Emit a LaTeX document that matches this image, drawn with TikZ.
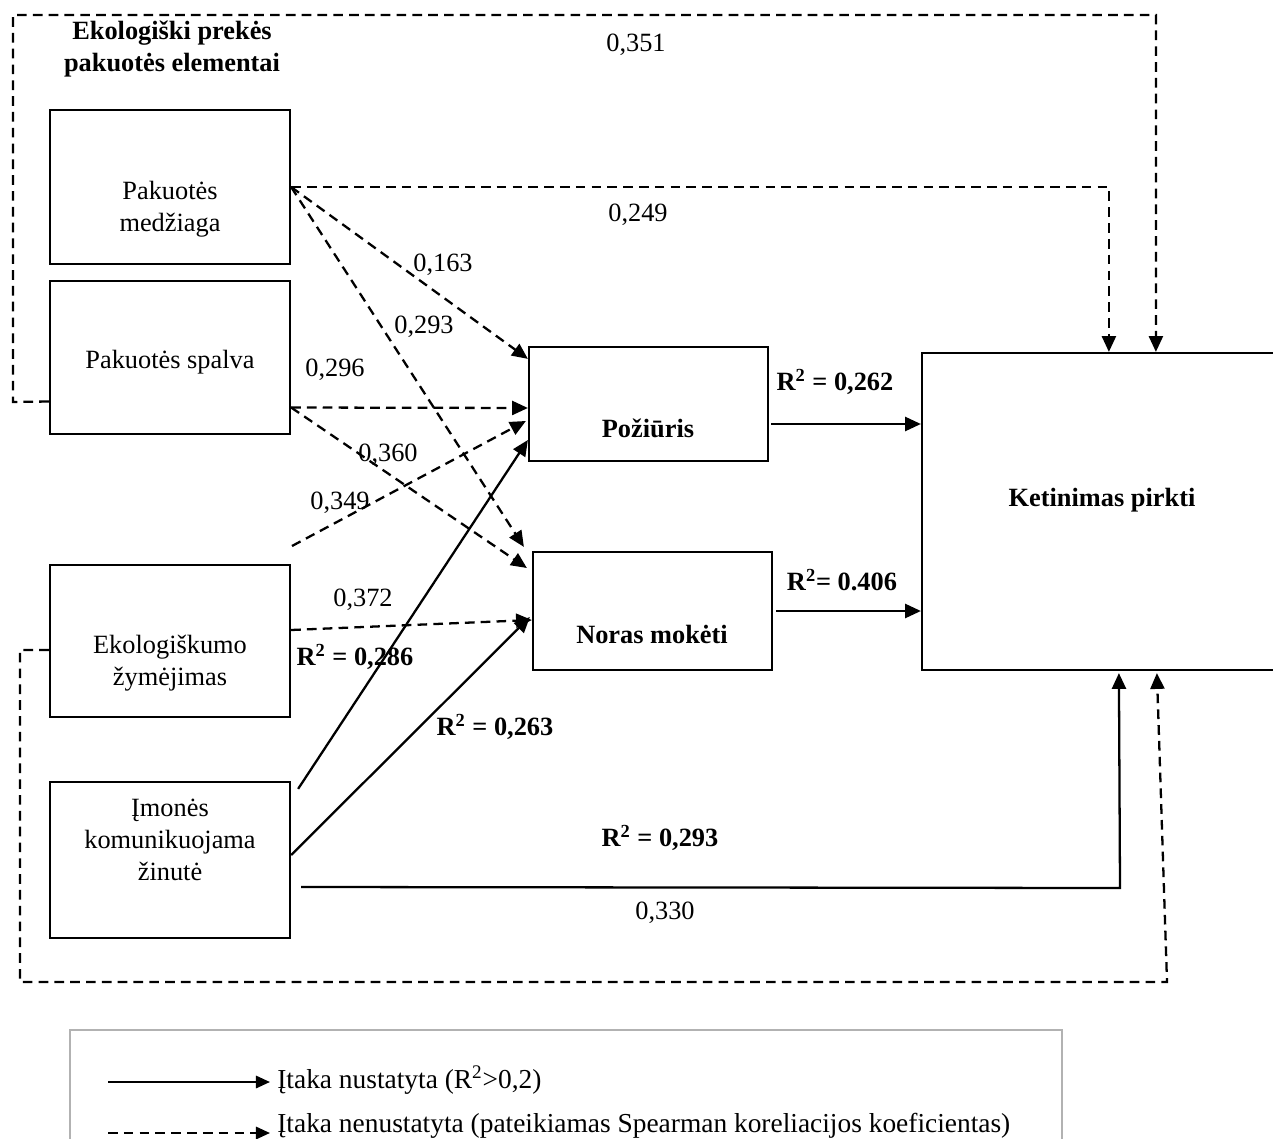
\documentclass[tikz,border=0pt]{standalone}
\usepackage{fontspec}
\setmainfont{Liberation Serif}
\usetikzlibrary{arrows.meta,calc}

\tikzset{
  x=0.02cm, y=-0.02cm,
  every node/.style={font=\fontsize{15}{18}\selectfont, inner sep=0pt},
  box/.style={draw, line width=1.3pt, minimum width=4.8cm},
  txt/.style={align=center},
  lbl/.style={},
  strong/.style={font=\fontsize{15}{18}\selectfont\bfseries},
  legtext/.style={anchor=west, font=\fontsize{15.6}{18}\selectfont},
  solidarrow/.style={line width=1.3pt, -{Triangle[length=9pt,width=8pt]}},
  dasharrow/.style={line width=1.3pt, dash pattern=on 5.5pt off 3.5pt, -{Triangle[length=9pt,width=8pt]}},
}

\begin{document}
\begin{tikzpicture}
\useasboundingbox (0,0) rectangle (1273,1138);

% group heading
\node[strong, align=center] (head) at (172,49) {Ekologiški prekės\\pakuotės elementai};

% package element boxes
\node[box, minimum height=3.08cm] (medz) at (170,187) {};
\node[box, minimum height=3.06cm] (spalva) at (170,357.5) {};
\node[box, minimum height=3.04cm] (zym) at (170,641) {};
\node[box, minimum height=3.12cm] (imon) at (170,860) {};

\node[txt] (tmedz) at (170,209) {Pakuotės\\medžiaga};
\node[txt] (tspalva) at (170,362) {Pakuotės spalva};
\node[txt] (tzym) at (170,663) {Ekologiškumo\\žymėjimas};
\node[txt] (timon) at (170,840) {Įmonės\\komunikuojama\\žinutė};

% mediator and outcome boxes
\node[box, minimum width=4.78cm, minimum height=2.28cm] (poz) at (648.5,404) {};
\node[box, minimum width=4.78cm, minimum height=2.36cm] (noras) at (652.5,611) {};
\node[box, minimum width=7.16cm, minimum height=6.34cm] (ket) at (1101,511.5) {};

\node[strong] (tpoz) at (648,428) {Požiūris};
\node[strong] (tnoras) at (652,634) {Noras mokėti};
\node[strong] (tket) at (1102,500) {Ketinimas pirkti};

% helper points
\coordinate (a0) at ($(spalva.west)+(0,44)$);
\coordinate (a1) at ($(ket.north west)+(235,0)$);
\coordinate (b1) at ($(ket.north west)+(188,0)$);
\coordinate (s0) at ($(spalva.east)+(0,50)$);
\coordinate (e0) at (292,546);
\coordinate (z0) at ($(zym.west)+(0,9)$);
\coordinate (z1) at ($(ket.south west)+(236,2)$);
\coordinate (i0) at ($(imon.east)+(10,27)$);
\coordinate (i1) at ($(ket.south west)+(198,2)$);
\coordinate (p0) at ($(poz.east)+(2,20)$);
\coordinate (n0) at ($(noras.east)+(3,0)$);

% dashed connectors (correlations)
\draw[dasharrow] (a0) -- (13,402) -- (13,15) -| (a1);
\draw[dasharrow] (medz.east) -| (b1);
\draw[dasharrow] (medz.east) -- ($(poz.north west)+(0,13)$);
\draw[dasharrow] (medz.east) -- ($(noras.north west)+(-8,-4)$);
\draw[dasharrow] (s0) -- ($(poz.west)+(0,4)$);
\draw[dasharrow] (s0) -- ($(noras.west)+(-5,-43)$);
\draw[dasharrow] (e0) -- ($(poz.west)+(-2,17)$);
\draw[dasharrow] ($(zym.east)+(0,-11)$) -- ($(noras.west)+(0,9)$);
\draw[dasharrow] (z0) -- (20,650) -- (20,982) -- (1167,982) -- (z1);

% solid connectors (regressions)
\draw[solidarrow] ($(imon.north east)+(7,8)$) -- ($(poz.west)+(0,36)$);
\draw[solidarrow] ($(imon.east)+(0,-5)$) -- ($(noras.west)+(-2,6)$);
\draw[solidarrow] (i0) -- (1120,888) -- (i1);
\draw[solidarrow] (p0) -- (p0 -| ket.west);
\draw[solidarrow] (n0) -- (n0 -| ket.west);

% coefficients
\node[lbl] (c351) at (636,45) {0,351};
\node[lbl] (c249) at (638,215) {0,249};
\node[lbl] (c163) at (443,265) {0,163};
\node[lbl] (c293) at (424,327) {0,293};
\node[lbl] (c296) at (335,370) {0,296};
\node[lbl] (c360) at (388,455) {0,360};
\node[lbl] (c349) at (340,503) {0,349};
\node[lbl] (c372) at (363,600) {0,372};
\node[lbl] (c330) at (665,913) {0,330};
\node[strong] (r286) at (355,657) {R\textsuperscript{2} = 0,286};
\node[strong] (r263) at (495,727) {R\textsuperscript{2} = 0,263};
\node[strong] (r293) at (660,838) {R\textsuperscript{2} = 0,293};
\node[strong] (r262) at (835,382) {R\textsuperscript{2} = 0,262};
\node[strong] (r406) at (842,580) {R\textsuperscript{2}= 0.406};

% legend
\draw[line width=1pt, gray!60] (70,1150) |- (1062,1030) -- (1062,1150);
\coordinate (l1a) at (108,1082);
\coordinate (l1b) at (270,1082);
\coordinate (l2a) at (108,1133);
\coordinate (l2b) at (270,1133);
\draw[line width=1.3pt, -{Triangle[length=8pt,width=7pt]}] (l1a) -- (l1b);
\draw[line width=1.3pt, dash pattern=on 5.5pt off 3.5pt, -{Triangle[length=8pt,width=7pt]}] (l2a) -- (l2b);
\node[legtext] (leg1) at (277,1080) {Įtaka nustatyta (R\textsuperscript{2}>0,2)};
\node[legtext] (leg2) at (277,1126) {Įtaka nenustatyta (pateikiamas Spearman koreliacijos koeficientas)};
\end{tikzpicture}
\end{document}
